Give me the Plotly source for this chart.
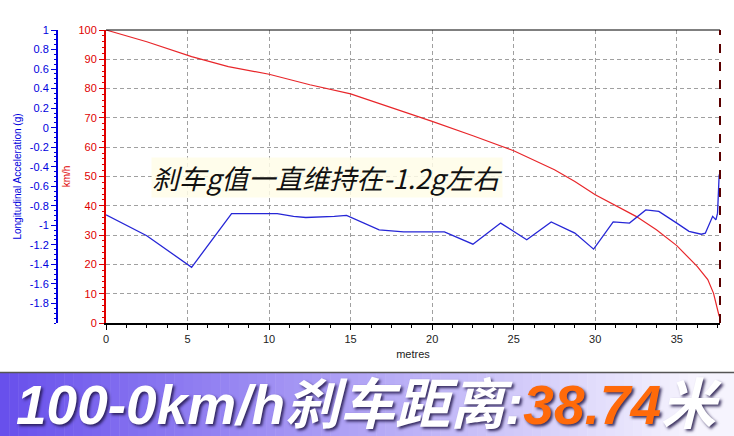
import plotly.graph_objects as go

# ---- data ----
dist_speed = [0, 2.5, 5.25, 7.5, 10, 12.5, 15, 17.5, 20, 22.5, 25, 27.5, 28.75, 30,
              32.5, 33.75, 35, 36.25, 36.9, 37.25, 37.6]
speed_kmh = [100, 96, 90.9, 87.5, 84.9, 81.3, 78.2, 73.6, 68.8, 63.9, 58.8, 52.3, 48.3,
             43.8, 36.4, 31.8, 26.4, 19.3, 14.8, 10.2, 2.3]

dist_acc = [0, 2.5, 5.25, 7.7, 10.5, 11.5, 12.25, 13, 14, 14.75, 16.75, 18.25, 20.75,
            22.5, 24.2, 25.8, 27.3, 28.75, 29.9, 31.1, 32.1, 33.1, 33.9, 35, 35.75,
            36.5, 36.75, 37.2, 37.4, 37.5, 37.55, 37.6]
accel_g = [-0.893, -1.106, -1.43, -0.881, -0.881, -0.908, -0.92, -0.917, -0.908, -0.899,
           -1.046, -1.067, -1.067, -1.193, -0.977, -1.148, -0.965, -1.079, -1.244, -0.965,
           -0.977, -0.842, -0.857, -0.977, -1.061, -1.091, -1.08, -0.908, -0.944, -0.875,
           -0.60, -0.48]

g_ticks = [1, 0.8, 0.6, 0.4, 0.2, 0, -0.2, -0.4, -0.6, -0.8, -1, -1.2, -1.4, -1.6, -1.8]
g_tick_labels = ["1", "0.8", "0.6", "0.4", "0.2", "0", "-0.2", "-0.4", "-0.6", "-0.8",
                 "-1", "-1.2", "-1.4", "-1.6", "-1.8"]

annotation_text = "刹车g值一直维持在-1.2g左右"
banner_left = "100-0km/h刹车距离:"
banner_value = "38.74"
banner_unit = "米"

X_MAX = 37.65

fig = go.Figure()
fig.add_trace(go.Scatter(x=dist_speed, y=speed_kmh, mode="lines",
                         line=dict(color="#e8262a", width=1.2), yaxis="y",
                         showlegend=False, hoverinfo="skip"))
fig.add_trace(go.Scatter(x=dist_acc, y=accel_g, mode="lines",
                         line=dict(color="#2626d6", width=1.3), yaxis="y2",
                         showlegend=False, hoverinfo="skip"))

tickfont = dict(family="Liberation Sans, Arial, sans-serif", size=11)
grid_col = "#a0a0a0"
grid_dash = "4px,3px"

fig.update_layout(
    width=734, height=436,
    margin=dict(l=57, r=14, t=30, b=113, autoexpand=False),
    paper_bgcolor="white", plot_bgcolor="white",
    xaxis=dict(
        domain=[49 / 663, 1], range=[0, X_MAX], dtick=5, tick0=0,
        showline=True, linecolor="black", linewidth=2,
        ticks="outside", ticklen=5, tickcolor="black",
        tickfont=dict(color="#222", **tickfont),
        showgrid=True, gridcolor=grid_col, griddash=grid_dash, gridwidth=1,
        zeroline=False,
        minor=dict(dtick=1.25, ticks="outside", ticklen=3, tickcolor="black", showgrid=False),
        title=dict(text="metres", font=dict(color="#222", **tickfont), standoff=6),
    ),
    yaxis=dict(
        range=[0, 100], dtick=10,
        showline=True, linecolor="#e00000", linewidth=2,
        ticks="outside", ticklen=5, tickcolor="#e00000",
        tickfont=dict(color="#e00000", **tickfont),
        showgrid=True, gridcolor=grid_col, griddash=grid_dash, gridwidth=1,
        zeroline=False,
        minor=dict(dtick=2, ticks="outside", ticklen=2, tickcolor="#e00000", showgrid=False),
        title=dict(text="km/h", font=dict(color="#e00000", family="Liberation Sans, Arial, sans-serif", size=10), standoff=6),
    ),
    yaxis2=dict(
        overlaying="y", anchor="free", position=0, side="left",
        range=[-2, 1], tickvals=g_ticks, ticktext=g_tick_labels,
        showline=True, linecolor="#0000dd", linewidth=2,
        ticks="outside", ticklen=5, tickcolor="#0000dd",
        tickfont=dict(color="#0000dd", **tickfont),
        showgrid=False, zeroline=False,
        minor=dict(dtick=0.05, ticks="outside", ticklen=2, tickcolor="#0000dd"),
        title=dict(text="Longitudinal Acceleration (g)",
                   font=dict(color="#0000dd", family="Liberation Sans, Arial, sans-serif", size=10),
                   standoff=5),
    ),
)

shapes = []
# top border and right border of the plot
shapes.append(dict(type="line", xref="x domain", yref="y domain", x0=0, x1=1, y0=1, y1=1,
                   line=dict(color="black", width=1)))
shapes.append(dict(type="line", xref="x domain", yref="y domain", x0=1, x1=1, y0=0, y1=1,
                   line=dict(color="#5a0000", width=2, dash="dash")))

# banner gradient (paper coords: plot area is y 30..323 px, x 57..720 px)
def px_to_paper_x(px):
    return (px - 57) / 663.0

def py_to_paper_y(py):
    return (323 - py) / 293.0

n = 80
c0 = (104, 80, 236)
c1 = (246, 244, 254)
for i in range(n):
    t = i / (n - 1)
    tt = min(1.0, t * 1.05)
    col = tuple(int(round(c0[k] + (c1[k] - c0[k]) * tt)) for k in range(3))
    x0 = px_to_paper_x(734 * i / n)
    x1 = px_to_paper_x(734 * (i + 1) / n + 0.5)
    shapes.append(dict(type="rect", xref="paper", yref="paper", x0=x0, x1=x1,
                       y0=py_to_paper_y(437), y1=py_to_paper_y(373),
                       fillcolor="rgb(%d,%d,%d)" % col, line=dict(width=0), layer="below"))
shapes.append(dict(type="line", xref="paper", yref="paper", x0=px_to_paper_x(0), x1=px_to_paper_x(734),
                   y0=py_to_paper_y(372.5), y1=py_to_paper_y(372.5), line=dict(color="#555", width=1.5)))
fig.update_layout(shapes=shapes)

fig.add_annotation(
    x=2.75, y=49.5, xref="x", yref="y", xanchor="left", yanchor="middle",
    text="<i>" + annotation_text + "</i>", showarrow=False,
    font=dict(family="Noto Sans CJK SC, sans-serif", size=27, color="#111"),
    bgcolor="rgba(255,253,232,0.85)", borderpad=0,
)

fig.add_annotation(
    x=px_to_paper_x(14), y=py_to_paper_y(405), xref="paper", yref="paper",
    xanchor="left", yanchor="middle", showarrow=False,
    text="<b><i>" + banner_left + "<span style='color:#ff6a0a'>" + banner_value + "</span>"
         + banner_unit + "</i></b>",
    font=dict(family="Liberation Sans, Noto Sans CJK SC, sans-serif", size=55, color="white",
              shadow="2px 2px 3px rgba(30,20,70,0.85)"),
)

fig.write_html("out.html", config={"displayModeBar": False},
               post_script="document.body.style.margin='0';document.body.style.overflow='hidden';")
